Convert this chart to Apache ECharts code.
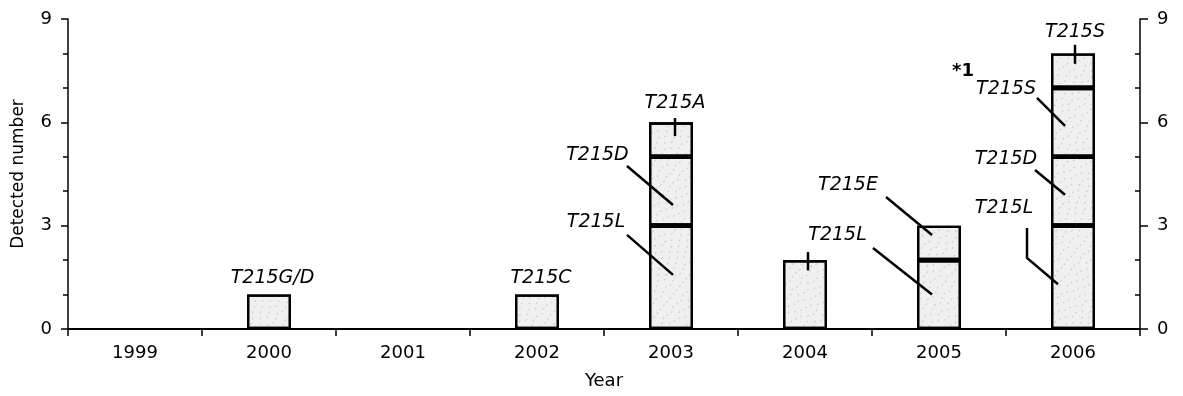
<!DOCTYPE html>
<html>
<head>
<meta charset="utf-8">
<script src="https://cdn.jsdelivr.net/npm/echarts@6/dist/echarts.min.js"></script>
<style>
html,body{margin:0;padding:0;background:#fff;}
#c{width:1183px;height:396px;}
</style>
</head>
<body>
<div id="c"></div>
<script>
// ---- data ----
const years = ['1999','2000','2001','2002','2003','2004','2005','2006'];
// stacked segments, bottom to top
const level1 = [0, 1, 0, 1, 3, 2, 2, 3];
const level2 = [0, 0, 0, 0, 2, 0, 1, 2];
const level3 = [0, 0, 0, 0, 1, 0, 0, 2];
const level4 = [0, 0, 0, 0, 0, 0, 0, 1];
const yTicks = [0, 3, 6, 9];
// annotations: year, value where the leader ends, label text
const annYears  = ['2000', '2002', '2003', '2003', '2003', '2004', '2005', '2005', '2006', '2006', '2006', '2006'];
const annValues = [1, 1, 5.6, 3.6, 1.6, 1.7, 1.0, 2.7, 7.7, 5.9, 3.9, 1.3];
const annTexts  = ['T215G/D', 'T215C', 'T215A', 'T215D', 'T215L', 'T215L', '', 'T215E', 'T215S', 'T215S', 'T215D', 'T215L'];
const annNotes  = ['', '', '', '', '', '', '', '', '', '*1', '', ''];

// ---- layout of annotations (pixel offsets from the data anchor) ----
const annLayout = [
  {line: null, text: [3.5, -16]},
  {line: null, text: [4, -16]},
  {line: [[4, -18], [4, 0]], text: [4, -32.6]},
  {line: [[-44, -39], [2, 0]], text: [-73.5, -49.5]},
  {line: [[-44, -39], [2, 1]], text: [-75, -51.5]},
  {line: [[3, -18.5], [3, 0]], text: [32.5, -35.5]},
  {line: [[-66, -46.6], [-7, 0]], text: null},
  {line: [[-53, -39], [-7, -1]], text: [-91, -50.5]},
  {line: [[2, -19], [2, 0]], text: [2, -31.3]},
  {line: [[-36, -27.8], [-8, 0]], text: [-67, -36.3], note: [-110, -54.3]},
  {line: [[-38, -24.7], [-8, 0]], text: [-67, -35.2]},
  {line: [[-46, -56.2], [-46, -26.2], [-15, 0]], text: [-69, -75.7]}
];

const FONT = 'DejaVu Sans';
const toBar = arr => arr.map(v => (v === 0 ? '-' : v));

const barStyle = {
  color: '#f0f0f0',
  borderColor: '#000',
  borderWidth: 2.3,
  decal: {
    symbol: 'rect',
    symbolSize: 0.6,
    color: 'rgba(0,0,0,0.55)',
    dashArrayX: [[1, 7], [0, 4, 1, 5], [0, 2, 1, 6]],
    dashArrayY: [2, 3],
    rotation: 0.7
  }
};

function barSeries(name, arr) {
  return {
    name: name, type: 'bar', stack: 'total', data: toBar(arr),
    barWidth: 44, itemStyle: barStyle, animation: false, z: 2
  };
}

const annData = annYears.map((y, i) => [y, annValues[i], i]);

const chart = echarts.init(document.getElementById('c'), null, {renderer: 'canvas'});
chart.setOption({
  animation: false,
  grid: {left: 68, right: 43, top: 19, bottom: 67},
  xAxis: {
    type: 'category', data: years, boundaryGap: true,
    name: 'Year', nameLocation: 'middle', nameGap: 43,
    nameTextStyle: {fontFamily: FONT, fontSize: 18, color: '#000'},
    axisLine: {lineStyle: {color: '#000', width: 2}},
    axisTick: {show: true, length: 7, lineStyle: {color: '#000', width: 1.5}},
    axisLabel: {fontFamily: FONT, fontSize: 18, color: '#000', margin: 15},
    splitLine: {show: false}
  },
  yAxis: [
    {
      type: 'value', min: 0, max: 9, interval: 3, position: 'left',
      name: 'Detected number', nameLocation: 'middle', nameGap: 41, nameRotate: 90,
      nameTextStyle: {fontFamily: FONT, fontSize: 17, color: '#000'},
      axisLine: {show: true, lineStyle: {color: '#000', width: 1.5}},
      axisTick: {show: true, length: 7, lineStyle: {color: '#000', width: 1.5}},
      minorTick: {show: true, splitNumber: 3, length: 5, lineStyle: {color: '#000', width: 1.5}},
      axisLabel: {fontFamily: FONT, fontSize: 18, color: '#000', margin: 16,
                  formatter: v => (yTicks.indexOf(v) >= 0 ? String(v) : '')},
      splitLine: {show: false}
    },
    {
      type: 'value', min: 0, max: 9, interval: 3, position: 'right',
      axisLine: {show: true, lineStyle: {color: '#000', width: 1.5}},
      axisTick: {show: true, length: 8, lineStyle: {color: '#000', width: 1.5}},
      minorTick: {show: false},
      axisLabel: {fontFamily: FONT, fontSize: 18, color: '#000', margin: 17},
      splitLine: {show: false}
    },
    {
      type: 'value', min: 0, max: 9, interval: 3, position: 'right',
      axisLine: {show: false},
      axisTick: {show: false, inside: true, length: 5},
      minorTick: {show: true, splitNumber: 3, length: 5, lineStyle: {color: '#000', width: 1.5}},
      axisLabel: {show: false},
      splitLine: {show: false}
    }
  ],
  series: [
    barSeries('level1', level1),
    barSeries('level2', level2),
    barSeries('level3', level3),
    barSeries('level4', level4),
    {
      type: 'custom', data: annData, clip: false, z: 5, silent: true,
      encode: {x: 0, y: 1},
      renderItem: function (params, api) {
        const idx = api.value(2);
        const p = api.coord([api.value(0), api.value(1)]);
        const lay = annLayout[idx];
        const children = [];
        if (lay.line) {
          children.push({
            type: 'polyline',
            shape: {points: lay.line.map(d => [p[0] + d[0], p[1] + d[1]])},
            style: {stroke: '#000', lineWidth: 2.5, fill: null}
          });
        }
        if (lay.text && annTexts[idx]) {
          children.push({
            type: 'text',
            x: p[0] + lay.text[0], y: p[1] + lay.text[1],
            style: {
              text: annTexts[idx], fill: '#000',
              font: 'italic 19px "' + FONT + '"',
              align: 'center', verticalAlign: 'middle'
            }
          });
        }
        if (lay.note && annNotes[idx]) {
          children.push({
            type: 'text',
            x: p[0] + lay.note[0], y: p[1] + lay.note[1],
            style: {
              text: annNotes[idx], fill: '#000',
              font: 'bold 18px "' + FONT + '"',
              align: 'center', verticalAlign: 'middle'
            }
          });
        }
        return {type: 'group', children: children};
      }
    }
  ]
});
</script>
</body>
</html>
